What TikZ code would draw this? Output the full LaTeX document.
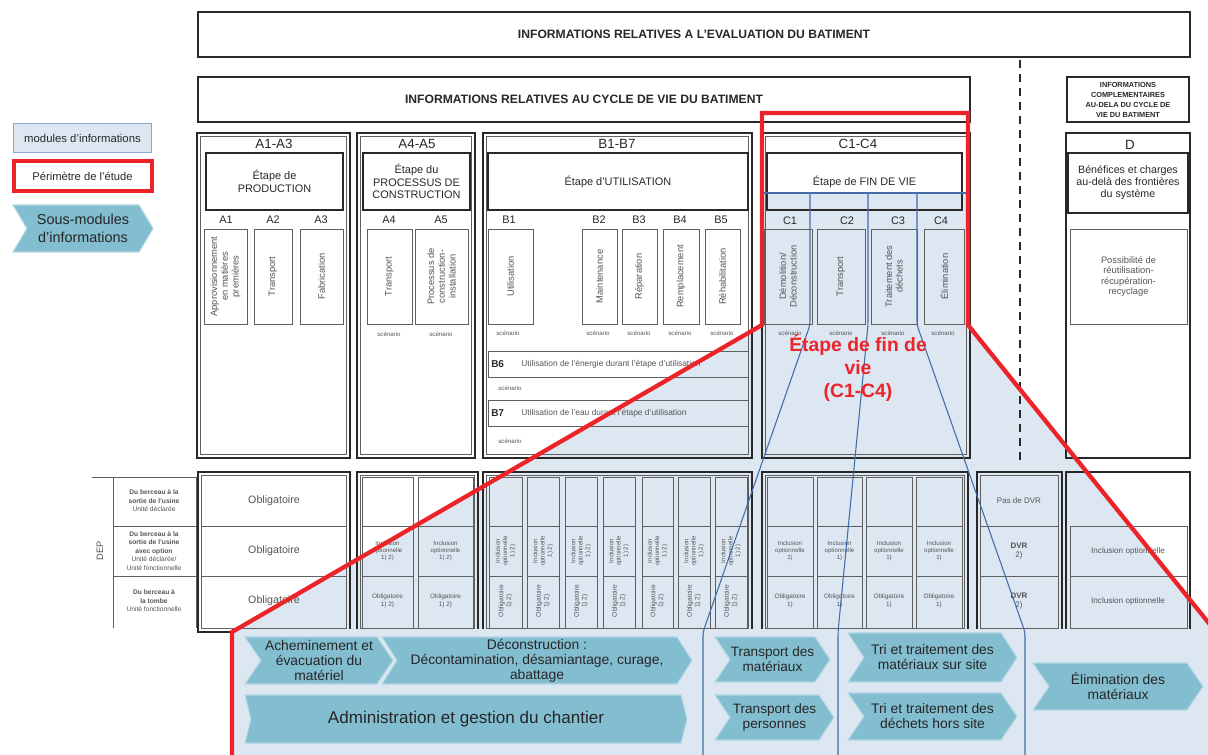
\documentclass[tikz,border=0pt]{standalone}
\usepackage{fontspec}
\setmainfont{Liberation Sans}
\usetikzlibrary{calc}
\definecolor{lblue}{RGB}{221,231,242}
\definecolor{legb}{RGB}{140,165,200}
\definecolor{teal1}{RGB}{131,189,208}
\definecolor{tealb}{RGB}{178,215,228}
\definecolor{redp}{RGB}{236,36,42}
\definecolor{bline}{RGB}{68,108,170}
\definecolor{dk}{RGB}{40,40,40}
\definecolor{md}{RGB}{95,95,95}
\definecolor{gtxt}{RGB}{85,85,85}
\newcommand\fz[2]{\fontsize{#1}{#2}\selectfont}
\tikzset{
  topbox/.style={draw=dk,line width=1pt},
  colo/.style={draw=dk,line width=1pt},
  coli/.style={draw=md,line width=0.6pt},
  stagebox/.style={draw=dk,line width=1.4pt},
  subbox/.style={draw=md,line width=0.7pt},
  cellbox/.style={draw=md,line width=0.6pt},
  txt/.style={inner sep=0pt,align=center,text=dk},
  gtx/.style={inner sep=0pt,align=center,text=gtxt},
  chevfill/.style={fill=teal1,draw=tealb,line width=0.8pt},
  bl/.style={draw=bline,line width=0.8pt,rounded corners=3pt},
  redl/.style={draw=redp,line width=3.2pt,line join=miter},
}
\newcommand\dcol[4]{\draw[colo] (#1,#2) rectangle (#3,#4);
  \draw[coli] ($(#1,#2)+(3.5,3.5)$) rectangle ($(#3,#4)+(-3.5,-3.5)$);}
\newcommand\tb[8]{\draw[#6] (#2,#3) rectangle (#4,#5);
  \node[#7] (#1) at ({(#2+#4)/2},{(#3+#5)/2}) {#8};}
\newcommand\vb[6]{\draw[subbox] (#2,#3) rectangle (#4,#5);
  \node[gtx,rotate=90,font=\fz{7}{8}] (#1) at ({(#2+#4)/2},{(#3+#5)/2}) {#6};}
\newcommand\chev[8]{%
  \pgfmathsetmacro\cxa{#2+#6}\pgfmathsetmacro\cxb{#4-#6}%
  \pgfmathsetmacro\cym{(#3+#5)/2}\pgfmathsetmacro\cxm{(#2+#4)/2}%
  \path[chevfill] (#2,#3) -- (\cxb,#3) -- (#4,\cym) -- (\cxb,#5) -- (#2,#5) -- (\cxa,\cym) -- cycle;
  \node[txt,font=#7,text=black!85] (#1) at (\cxm,\cym) {#8};}
\begin{document}
\begin{tikzpicture}[x=0.75pt,y=-0.75pt]
\useasboundingbox (0,0) rectangle (1208,755);
\fill[white] (0,0) rectangle (1208,755);
% zoom region
\fill[lblue] (762,193) -- (968,193) -- (968,325) -- (1216,632) -- (1216,760) -- (232,760) -- (232,632) -- (762,325) -- cycle;

% legend
\node[draw=legb,fill=lblue,line width=0.8pt,minimum width=104pt,minimum height=22pt,inner sep=0,font=\fz{8.5}{10},text=dk] (leg1) at (82.5,138) {modules d'informations};
\node[draw=redp,line width=3pt,fill=white,minimum width=103.5pt,minimum height=22.5pt,inner sep=0,font=\fz{8.4}{10},text=dk] (leg2) at (82.5,176.5) {Périmètre de l'étude};
\chev{leg3}{13}{205}{153}{252}{14}{\fz{10.8}{13}}{Sous-modules\\d'informations}

% top headers
\tb{t1}{198}{12}{1190}{57}{topbox}{txt,font=\fz{9.1}{11}\bfseries}{INFORMATIONS RELATIVES A L'EVALUATION DU BATIMENT}
\tb{t2}{198}{77}{970}{122}{topbox}{txt,font=\fz{9.1}{11}\bfseries}{INFORMATIONS RELATIVES AU CYCLE DE VIE DU BATIMENT}
\tb{t3}{1067}{77}{1189}{122}{topbox}{txt,font=\fz{5.5}{7.5}\bfseries}{INFORMATIONS\\COMPLEMENTAIRES\\AU-DELA DU CYCLE DE\\VIE DU BATIMENT}
\draw[dk,line width=0.8pt,dash pattern=on 6pt off 4.5pt] (1020,60) -- (1020,465);

% ---- A1-A3
\dcol{197}{133}{350}{458}
\node[txt,font=\fz{10}{12}] (ta) at (274,144) {A1-A3};
\tb{sa}{206}{153}{343}{210}{stagebox}{txt,font=\fz{8.2}{9.5}}{Étape de\\PRODUCTION}
\node[txt,font=\fz{8.2}{10}] (la1) at (226,220) {A1};
\node[txt,font=\fz{8.2}{10}] (la2) at (273,220) {A2};
\node[txt,font=\fz{8.2}{10}] (la3) at (321,220) {A3};
\vb{a1}{204}{229}{247}{324}{Approvisionnement\\en matières\\premières}
\vb{a2}{254}{229}{292}{324}{Transport}
\vb{a3}{300}{229}{343}{324}{Fabrication}

% ---- A4-A5
\dcol{357}{133}{475}{458}
\node[txt,font=\fz{10}{12}] (tb) at (417,144) {A4-A5};
\tb{sb}{363}{153}{470}{210}{stagebox}{txt,font=\fz{8.2}{9.5}}{Étape du\\PROCESSUS DE\\CONSTRUCTION}
\node[txt,font=\fz{8.2}{10}] (la4) at (389,220) {A4};
\node[txt,font=\fz{8.2}{10}] (la5) at (441,220) {A5};
\vb{a4}{367}{229}{412}{324}{Transport}
\vb{a5}{415}{229}{468}{324}{Processus de\\construction-\\installation}
\node[gtx,font=\fz{4.6}{5.5}] (sa4) at (389,334) {scénario};
\node[gtx,font=\fz{4.6}{5.5}] (sa5) at (441,334) {scénario};

% ---- B1-B7
\dcol{483}{133}{752}{458}
\node[txt,font=\fz{10}{12}] (tc) at (617,144) {B1-B7};
\tb{sc}{488}{153}{748}{210}{stagebox}{txt,font=\fz{8.2}{9.5}}{Étape d'UTILISATION}
\node[txt,font=\fz{8.2}{10}] (lb1) at (509,220) {B1};
\node[txt,font=\fz{8.2}{10}] (lb2) at (599,220) {B2};
\node[txt,font=\fz{8.2}{10}] (lb3) at (639,220) {B3};
\node[txt,font=\fz{8.2}{10}] (lb4) at (680,220) {B4};
\node[txt,font=\fz{8.2}{10}] (lb5) at (721,220) {B5};
\vb{b1}{488}{229}{533}{324}{Utilisation}
\vb{b2}{582}{229}{617}{324}{Maintenance}
\vb{b3}{622}{229}{657}{324}{Réparation}
\vb{b4}{663}{229}{699}{324}{Remplacement}
\vb{b5}{705}{229}{740}{324}{Réhabilitation}
\foreach \x [count=\i] in {508,598,639,680,722}
  \node[gtx,font=\fz{4.6}{5.5}] (sb\i) at (\x,333) {scénario};
\draw[subbox] (488,351) rectangle (748,377);
\node[txt,font=\fz{7.5}{9}\bfseries,anchor=west] (b6) at (491,364) {B6};
\node[gtx,font=\fz{6.3}{8},anchor=west] (b6t) at (521,364) {Utilisation de l'énergie durant l'étape d'utilisation};
\node[gtx,font=\fz{4.6}{5.5}] (sb6) at (510,388) {scénario};
\draw[subbox] (488,400) rectangle (748,426);
\node[txt,font=\fz{7.5}{9}\bfseries,anchor=west] (b7) at (491,413) {B7};
\node[gtx,font=\fz{6.3}{8},anchor=west] (b7t) at (521,413) {Utilisation de l'eau durant l'étape d'utilisation};
\node[gtx,font=\fz{4.6}{5.5}] (sb7) at (510,441) {scénario};

% ---- C1-C4
\dcol{762}{133}{970}{458}
\node[txt,font=\fz{10}{12}] (td) at (858,144) {C1-C4};
\tb{sd}{767}{153}{962}{210}{stagebox}{txt,font=\fz{8.2}{9.5}}{Étape de FIN DE VIE}
\node[txt,font=\fz{8.2}{10}] (lc1) at (790,221) {C1};
\node[txt,font=\fz{8.2}{10}] (lc2) at (847,221) {C2};
\node[txt,font=\fz{8.2}{10}] (lc3) at (898,221) {C3};
\node[txt,font=\fz{8.2}{10}] (lc4) at (941,221) {C4};
\vb{c1}{764}{229}{812}{324}{Démolition/\\Déconstruction}
\vb{c2}{817}{229}{865}{324}{Transport}
\vb{c3}{871}{229}{917}{324}{Traitement des\\déchets}
\vb{c4}{924}{229}{964}{324}{Élimination}
\foreach \x [count=\i] in {790,841,893,943}
  \node[gtx,font=\fz{4.6}{5.5}] (sc\i) at (\x,333) {scénario};

% ---- D
\draw[colo] (1066,133) rectangle (1190,458);
\node[txt,font=\fz{10}{12}] (te) at (1130,145) {D};
\tb{se}{1068}{153}{1188}{213}{stagebox}{txt,font=\fz{8}{9}}{Bénéfices et charges\\au-delà des frontières\\du système}
\tb{pe}{1070}{229}{1187}{324}{subbox}{gtx,font=\fz{7}{7.6}}{Possibilité de\\réutilisation-\\récupération-\\recyclage}

% ---- bottom table
\draw[cellbox] (92,477) -- (196,477) (113,477) -- (113,628) (196,477) -- (196,628)
  (113,526) -- (196,526) (113,576) -- (196,576);
\node[gtx,rotate=90,font=\fz{7}{8}] (dep) at (100,551) {DEP};
\node[gtx,font=\fz{5}{6.4}] (r1) at (154,501) {\textbf{Du berceau à la}\\\textbf{sortie de l'usine}\\Unité déclarée};
\node[gtx,font=\fz{5}{6.4}] (r2) at (154,551) {\textbf{Du berceau à la}\\\textbf{sortie de l'usine}\\\textbf{avec option}\\Unité déclarée/\\Unité fonctionnelle};
\node[gtx,font=\fz{5}{6.4}] (r3) at (154,601) {\textbf{Du berceau à}\\\textbf{la tombe}\\Unité fonctionnelle};

\dcol{198}{472}{350}{632}
\draw[cellbox] (201.5,526) -- (346.5,526) (201.5,576) -- (346.5,576);
\foreach \y [count=\i] in {501,551,601}
  \node[gtx,font=\fz{8}{9}] (oa\i) at (274,\y) {Obligatoire};

\dcol{357}{472}{478}{632}
\foreach \a/\b [count=\i] in {362/413,418/473}{
  \draw[cellbox] (\a,477) rectangle (\b,628) (\a,526) -- (\b,526) (\a,576) -- (\b,576);
  \node[gtx,font=\fz{4.6}{5.4}] (ai\i) at ({(\a+\b)/2},551) {Inclusion\\optionnelle\\1) 2)};
  \node[gtx,font=\fz{4.8}{5.6}] (ao\i) at ({(\a+\b)/2},601) {Obligatoire\\1) 2)};
}

\dcol{483}{472}{752}{632}
\foreach \a/\b [count=\i] in {489/522,527/559,565/597,603/635,642/673,678/710,715/747}{
  \draw[cellbox] (\a,477) rectangle (\b,628) (\a,526) -- (\b,526) (\a,576) -- (\b,576);
  \node[gtx,rotate=90,font=\fz{4.6}{5.4}] (bi\i) at ({(\a+\b)/2},551) {Inclusion\\optionnelle\\1) 2)};
  \node[gtx,rotate=90,font=\fz{5}{5.8}] (bo\i) at ({(\a+\b)/2},601) {Obligatoire\\1) 2)};
}

\dcol{762}{472}{968}{632}
\foreach \a/\b [count=\i] in {767/813,817/862,866/912,916/962}{
  \draw[cellbox] (\a,477) rectangle (\b,628) (\a,526) -- (\b,526) (\a,576) -- (\b,576);
  \node[gtx,font=\fz{4.6}{5.4}] (ci\i) at ({(\a+\b)/2},551) {Inclusion\\optionnelle\\1)};
  \node[gtx,font=\fz{4.8}{5.6}] (co\i) at ({(\a+\b)/2},601) {Obligatoire\\1)};
}

\dcol{977}{472}{1062}{632}
\draw[cellbox] (980.5,526) -- (1058.5,526) (980.5,576) -- (1058.5,576);
\node[gtx,font=\fz{6}{7}] (dv1) at (1019,501) {Pas de DVR};
\node[gtx,font=\fz{6}{7}] (dv2) at (1019,551) {\textbf{DVR}\\2)};
\node[gtx,font=\fz{6}{7}] (dv3) at (1019,601) {\textbf{DVR}\\2)};

\draw[colo] (1066,472) rectangle (1190,632);
\draw[cellbox] (1070,526) rectangle (1187,628) (1070,576) -- (1187,576);
\node[gtx,font=\fz{6.1}{7}] (di1) at (1128,551) {Inclusion optionnelle};
\node[gtx,font=\fz{6.1}{7}] (di2) at (1128,601) {Inclusion optionnelle};

% bottom panel
\fill[lblue] (232,629) rectangle (1216,760);

% zoom lines
\draw[bl] (762,193) -- (968,193);
\draw[bl] (810,193) -- (810,325) -- (703,632) -- (703,760);
\draw[bl] (868,193) -- (868,325) -- (838,632) -- (838,760);
\draw[bl] (917,193) -- (917,325) -- (1025,632) -- (1025,760);

% chevrons
\chev{ach}{245}{637}{393}{684}{16}{\fz{10.4}{11.3}}{Acheminement et\\évacuation du\\matériel}
\chev{dec}{382}{637}{692}{684}{15}{\fz{10.4}{11.3}}{Déconstruction :\\Décontamination, désamiantage, curage,\\abattage}
\chev{adm}{245}{695}{687}{743}{6}{\fz{12.8}{14}}{Administration et gestion du chantier}
\chev{trm}{715}{637}{830}{682}{15}{\fz{10.2}{11.3}}{Transport des\\matériaux}
\chev{trp}{715}{695}{834}{740}{15}{\fz{10.2}{11.3}}{Transport des\\personnes}
\chev{tr1}{848}{633}{1017}{682}{16}{\fz{10.4}{11.3}}{Tri et traitement des\\matériaux sur site}
\chev{tr2}{848}{693}{1017}{740}{16}{\fz{10.4}{11.3}}{Tri et traitement des\\déchets hors site}
\chev{eli}{1033}{663}{1203}{710}{16}{\fz{10.4}{11.3}}{Élimination des\\matériaux}

% red perimeter
\draw[redl] (232,760) -- (232,632) -- (762,325) -- (762,113) -- (968,113) -- (968,325) -- (1216,632);
\node[inner sep=0,align=center,text=redp,font=\fz{14.5}{17.5}\bfseries] (rt) at (858,368) {Étape de fin de\\vie\\(C1-C4)};
\end{tikzpicture}
\end{document}
